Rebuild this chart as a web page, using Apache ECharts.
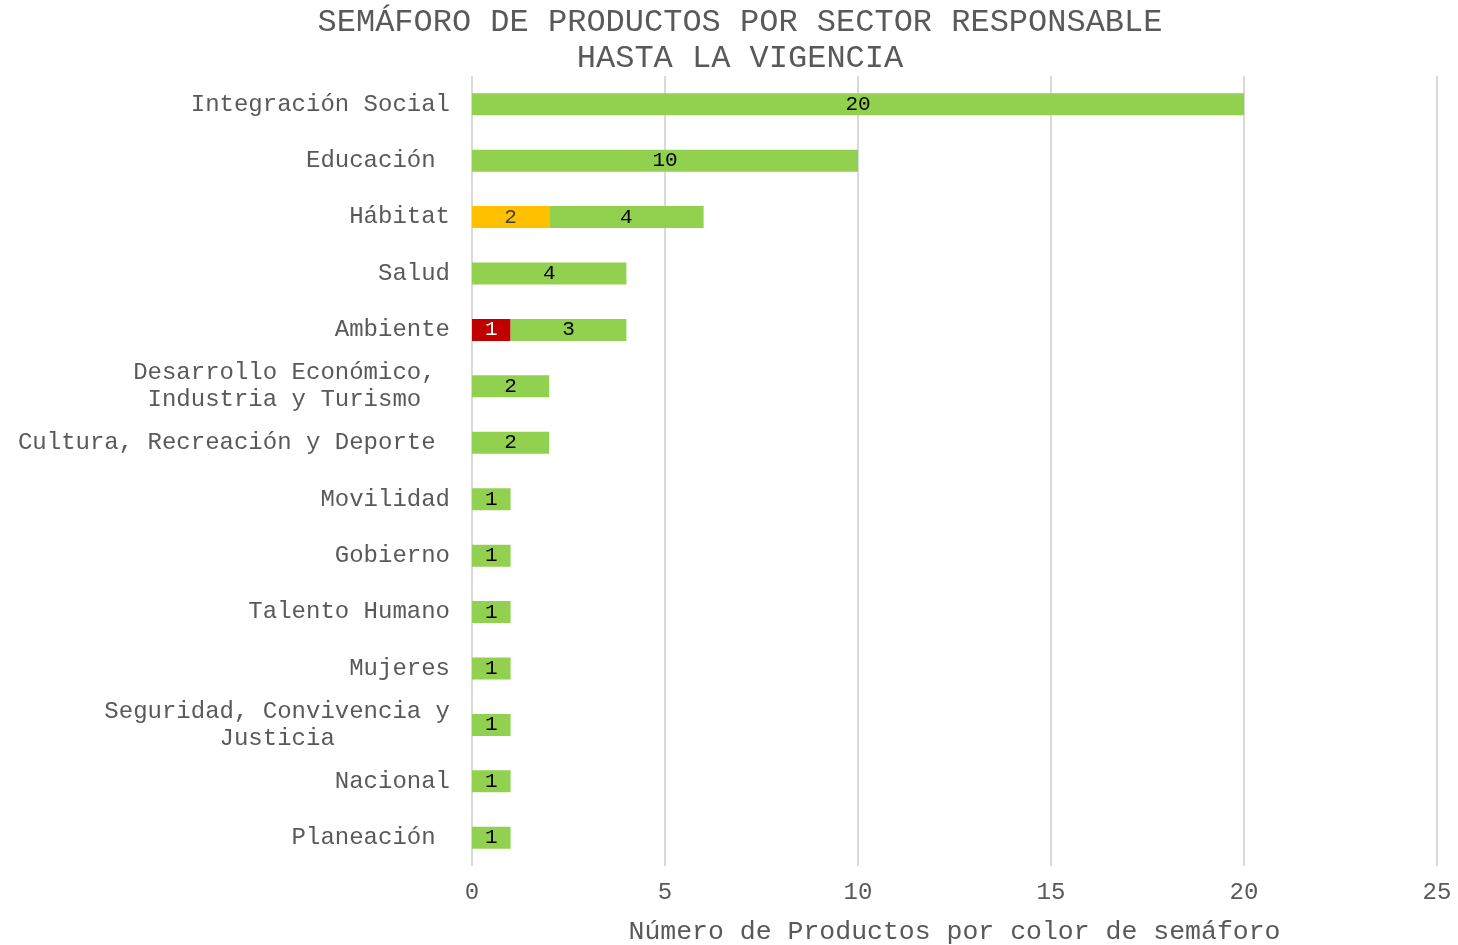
<!DOCTYPE html>
<html>
<head>
<meta charset="utf-8">
<script src="https://cdn.jsdelivr.net/npm/echarts@6/dist/echarts.min.js"></script>
<style>
html,body{margin:0;padding:0;background:#fff;}
#c{width:1458px;height:945px;}
</style>
</head>
<body>
<div id="c"></div>
<script>
const categories = [
  "Integración Social",
  "Educación ",
  "Hábitat",
  "Salud",
  "Ambiente",
  "Desarrollo Económico, \nIndustria y Turismo  ",
  "Cultura, Recreación y Deporte ",
  "Movilidad",
  "Gobierno",
  "Talento Humano",
  "Mujeres",
  "Seguridad, Convivencia y\nJusticia        ",
  "Nacional",
  "Planeación "
];
const redValues    = [null, null, null, null, 1, null, null, null, null, null, null, null, null, null];
const yellowValues = [null, null, 2, null, null, null, null, null, null, null, null, null, null, null];
const greenValues  = [20, 10, 4, 4, 3, 2, 2, 1, 1, 1, 1, 1, 1, 1];
const xTicks = [0, 5, 10, 15, 20, 25];

const FONT = "'Liberation Mono', 'Courier New', monospace";
const chart = echarts.init(document.getElementById('c'), null, {renderer: 'canvas'});

function mkSeries(name, data, color, labelColor) {
  return {
    name: name,
    type: 'bar',
    stack: 'total',
    data: data,
    barWidth: 22,
    itemStyle: {color: color},
    label: {
      show: true,
      position: 'inside',
      color: labelColor,
      fontFamily: FONT,
      fontSize: 21,
      formatter: p => (p.value == null ? '' : String(p.value))
    }
  };
}

chart.setOption({
  animation: false,
  title: {
    text: 'SEMÁFORO DE PRODUCTOS POR SECTOR RESPONSABLE\nHASTA LA VIGENCIA',
    left: 735,
    top: 0,
    textAlign: 'center',
    textStyle: {
      fontFamily: FONT,
      fontSize: 32,
      fontWeight: 'normal',
      color: '#595959',
      lineHeight: 36
    }
  },
  grid: {left: 472, right: 21, top: 76, bottom: 79, containLabel: false, outerBoundsMode: 'none'},
  xAxis: {
    type: 'value',
    min: xTicks[0],
    max: xTicks[xTicks.length - 1],
    interval: 5,
    axisLine: {show: false},
    axisTick: {show: false},
    splitLine: {show: true, lineStyle: {color: '#d9d9d9', width: 2}},
    axisLabel: {
      margin: 15,
      fontFamily: FONT,
      fontSize: 24,
      color: '#595959'
    },
    name: 'Número de Productos por color de semáforo',
    nameLocation: 'middle',
    nameGap: 52,
    nameTextStyle: {
      fontFamily: FONT,
      fontSize: 26.5,
      color: '#595959'
    }
  },
  yAxis: {
    type: 'category',
    data: categories,
    inverse: true,
    axisLine: {show: false},
    axisTick: {show: false},
    splitLine: {show: false},
    axisLabel: {
      margin: 22,
      fontFamily: FONT,
      fontSize: 24,
      color: '#595959',
      lineHeight: 27,
      interval: 0
    }
  },
  series: [
    mkSeries('Rojo', redValues, '#C00000', '#ffffff'),
    mkSeries('Amarillo', yellowValues, '#FFC000', '#404040'),
    mkSeries('Verde', greenValues, '#92D050', '#000000')
  ]
});
</script>
</body>
</html>
